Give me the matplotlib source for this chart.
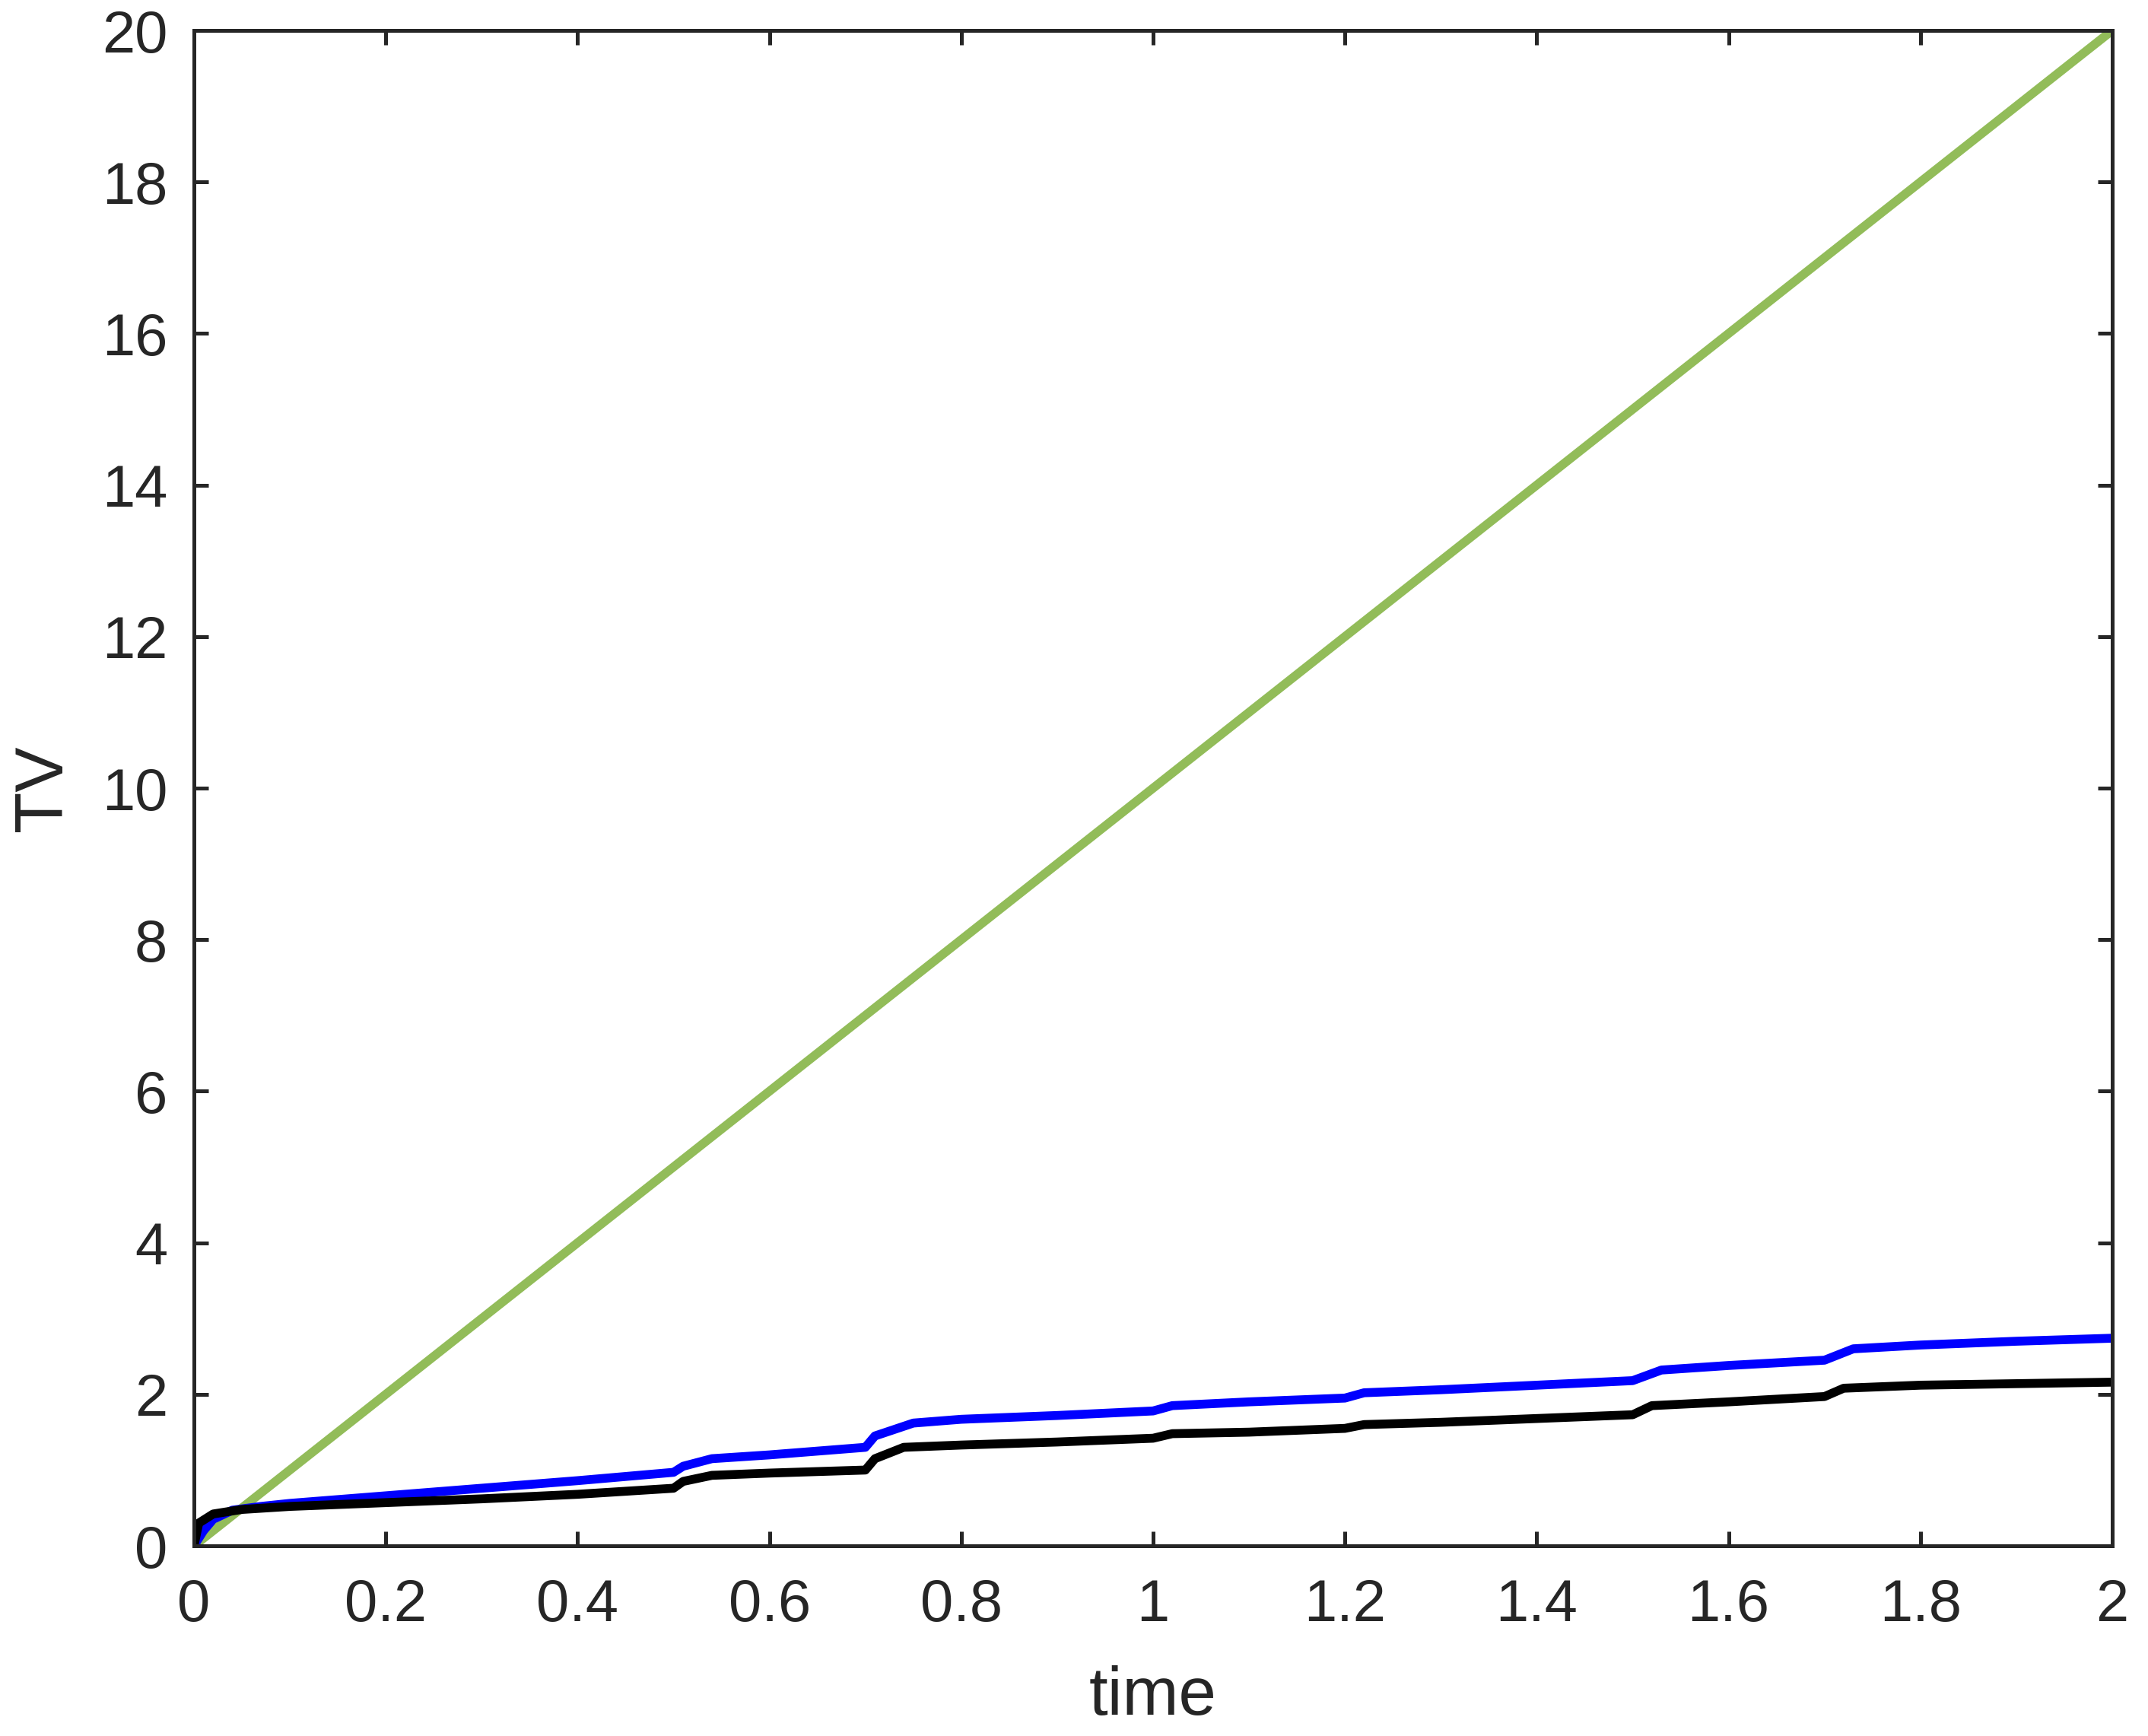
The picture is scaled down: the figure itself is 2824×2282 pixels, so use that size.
import matplotlib
matplotlib.use("Agg")
import matplotlib.pyplot as plt

# Data
green_t = [0.0, 2.0]
green_v = [0.0, 20.0]

blue_t = [0, 0.01, 0.02, 0.04, 0.07, 0.1, 0.2, 0.3, 0.4, 0.5, 0.51, 0.54, 0.6, 0.7, 0.71, 0.75,
          0.8, 0.9, 1.0, 1.02, 1.1, 1.2, 1.22, 1.3, 1.4, 1.5, 1.53, 1.6, 1.7, 1.73, 1.8, 1.9, 2.0]
blue_v = [0, 0.2, 0.35, 0.47, 0.52, 0.56, 0.66, 0.76, 0.86, 0.97, 1.05, 1.15, 1.2, 1.3, 1.45, 1.62,
          1.67, 1.72, 1.78, 1.85, 1.9, 1.95, 2.02, 2.06, 2.12, 2.18, 2.32, 2.38, 2.45, 2.6, 2.65, 2.7, 2.74]

black_t = [0, 0.005, 0.02, 0.05, 0.1, 0.2, 0.3, 0.4, 0.5, 0.51, 0.54, 0.6, 0.7, 0.71, 0.74, 0.8,
           0.9, 1.0, 1.02, 1.1, 1.2, 1.22, 1.3, 1.4, 1.5, 1.52, 1.6, 1.7, 1.72, 1.8, 1.9, 2.0]
black_v = [0, 0.3, 0.42, 0.48, 0.52, 0.57, 0.62, 0.68, 0.76, 0.85, 0.93, 0.96, 1.0, 1.15, 1.3, 1.33,
           1.37, 1.42, 1.48, 1.5, 1.55, 1.6, 1.63, 1.68, 1.73, 1.85, 1.9, 1.97, 2.08, 2.12, 2.14, 2.16]

xticks = [0, 0.2, 0.4, 0.6, 0.8, 1, 1.2, 1.4, 1.6, 1.8, 2]
xticklabels = ["0", "0.2", "0.4", "0.6", "0.8", "1", "1.2", "1.4", "1.6", "1.8", "2"]
yticks = list(range(0, 21, 2))

plt.rcParams['font.family'] = ['Liberation Sans', 'DejaVu Sans']

W, H = 2824, 2282
fig = plt.figure(figsize=(W / 200, H / 200), dpi=200)
ax_l, ax_r, ax_t, ax_b = 255, 2777, 40, 2032
ax = fig.add_axes([ax_l / W, (H - ax_b) / H, (ax_r - ax_l) / W, (ax_b - ax_t) / H])

lw = 4.2
ax.plot(green_t, green_v, color=(0.466, 0.674, 0.188), alpha=0.8, lw=lw, solid_capstyle='butt')
ax.plot(blue_t, blue_v, color=(0, 0, 1), lw=lw)
ax.plot(black_t, black_v, color=(0, 0, 0), lw=lw)

ax.set_xlim(0, 2)
ax.set_ylim(0, 20)
ax.set_xticks(xticks)
ax.set_xticklabels(xticklabels)
ax.set_yticks(yticks)

for s in ax.spines.values():
    s.set_linewidth(1.8)
    s.set_color('#262626')
ax.tick_params(direction='in', length=7, width=1.8, colors='#262626',
               top=True, right=True, labelsize=28)
ax.tick_params(axis='x', pad=15)
ax.tick_params(axis='y', pad=12.5)
for lab in ax.get_xticklabels() + ax.get_yticklabels():
    lab.set_color('#262626')

ax.set_xlabel('time', fontsize=32, color='#262626', va='center')
ax.set_ylabel('TV', fontsize=32, color='#262626', va='center')
ax.xaxis.set_label_coords(0.5, -(2231 - ax_b) / (ax_b - ax_t))
ax.yaxis.set_label_coords(-(ax_l - 58) / (ax_r - ax_l), 0.5)

fig.savefig('out.png', dpi=200, facecolor='white')
